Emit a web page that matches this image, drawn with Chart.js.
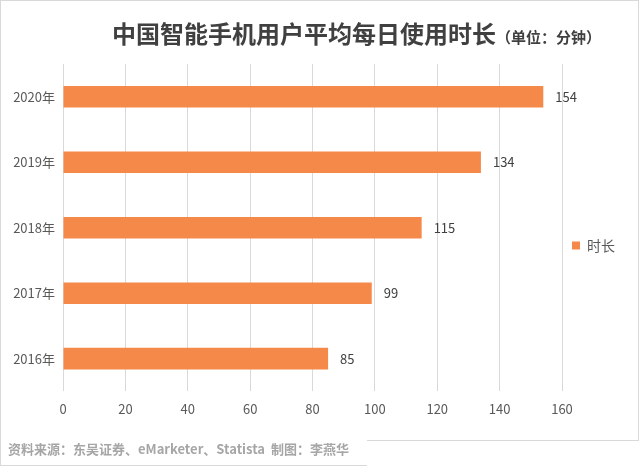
<!DOCTYPE html>
<html>
<head>
<meta charset="utf-8">
<script src="https://cdn.jsdelivr.net/npm/chart.js@4.4.1/dist/chart.umd.min.js"></script>
<style>
  body { margin: 0; background: #fff; }
  #wrap { position: relative; width: 640px; height: 467px; overflow: hidden; }
  #frame { position: absolute; left: 0; top: 0; width: 637px; height: 439px; border: 1px solid #d9d9d9; }
  #srcbox { position: absolute; left: 0; top: 440px; width: 366px; height: 25px; border-left: 1px solid #d9d9d9; border-bottom: 1px solid #d9d9d9; background: #fff; }
  #title { position: absolute; left: 112px; top: 17px; font-family: "Noto Sans CJK SC"; font-weight: bold; font-size: 24px; color: #404040; white-space: nowrap; line-height: 32px; }
  #title span { font-size: 15px; }
  #source { position: absolute; left: 8px; top: 439px; font-family: "Noto Sans CJK SC"; font-weight: bold; font-size: 13px; color: #a6a6a6; white-space: nowrap; line-height: 20px; }
  canvas { position: absolute; left: 0; top: 0; }
</style>
</head>
<body>
<div id="wrap">
  <div id="frame"></div>
  <div id="srcbox"></div>
  <canvas id="myChart" width="640" height="467"></canvas>
  <div id="title">中国智能手机用户平均每日使用时长<span>（单位：分钟）</span></div>
  <div id="source">资料来源：东吴证券、eMarketer、Statista&nbsp;&nbsp;制图：李燕华</div>
</div>
<script>
// データ
const years = ['2020年', '2019年', '2018年', '2017年', '2016年'];
const minutes = [154, 134, 115, 99, 85];
const seriesName = '时长';
const xTicks = [0, 20, 40, 60, 80, 100, 120, 140, 160];

const textColor = '#595959';
const fontFamily = '"Noto Sans CJK SC", "Noto Sans", sans-serif';

// バー末尾の数値ラベル
const valueLabels = {
  id: 'valueLabels',
  afterDatasetsDraw(chart) {
    const ctx = chart.ctx;
    const meta = chart.getDatasetMeta(0);
    ctx.save();
    ctx.font = '13px ' + fontFamily;
    ctx.fillStyle = '#404040';
    ctx.textAlign = 'left';
    ctx.textBaseline = 'middle';
    meta.data.forEach((bar, i) => {
      ctx.fillText(String(minutes[i]), bar.x + 12, bar.y);
    });
    ctx.restore();
  }
};

new Chart(document.getElementById('myChart'), {
  type: 'bar',
  data: {
    labels: years,
    datasets: [{
      label: seriesName,
      data: minutes,
      backgroundColor: '#F5894A',
      borderWidth: 0,
      barPercentage: 0.33,
      categoryPercentage: 1
    }]
  },
  options: {
    indexAxis: 'y',
    responsive: false,
    animation: false,
    layout: { padding: { top: 64, bottom: 40, left: 0, right: 15 } },
    scales: {
      x: {
        min: 0,
        max: 160,
        afterBuildTicks: scale => { scale.ticks = xTicks.map(v => ({ value: v })); },
        grid: { color: '#d9d9d9', lineWidth: 1, drawTicks: false },
        border: { display: false },
        ticks: { color: textColor, font: { family: fontFamily, size: 13 }, padding: 10 }
      },
      y: {
        afterFit: scale => { scale.width = 63; },
        grid: { display: false, drawTicks: false },
        border: { display: false },
        ticks: { color: textColor, font: { family: fontFamily, size: 13 }, padding: 8 }
      }
    },
    plugins: {
      title: { display: false },
      tooltip: { enabled: false },
      legend: {
        position: 'right',
        labels: {
          boxWidth: 8,
          boxHeight: 8,
          padding: 10,
          color: textColor,
          font: { family: fontFamily, size: 14 }
        }
      }
    }
  },
  plugins: [valueLabels]
});
</script>
</body>
</html>
